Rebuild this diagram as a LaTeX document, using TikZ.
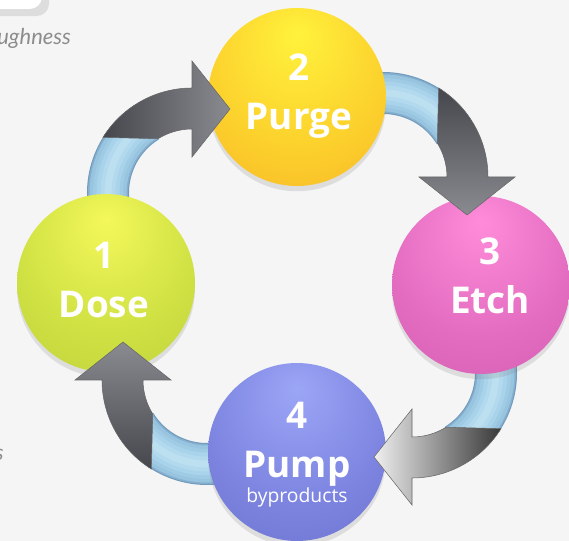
\documentclass[tikz,border=0pt]{standalone}
\usepackage{fontspec}
\setsansfont{Open Sans}
\newfontfamily\noteital{Lato}
\usetikzlibrary{shadows}

\definecolor{pagebg}{HTML}{F5F5F5}
\definecolor{dosehi}{HTML}{F4F85A}
\definecolor{dosemid}{HTML}{CEE042}
\definecolor{doseedge}{HTML}{B2C636}
\definecolor{purgehi}{HTML}{FFF23C}
\definecolor{purgemid}{HTML}{FCD02C}
\definecolor{purgeedge}{HTML}{F3A222}
\definecolor{etchhi}{HTML}{FF8CDA}
\definecolor{etchmid}{HTML}{E36CC0}
\definecolor{etchedge}{HTML}{C854A6}
\definecolor{pumphi}{HTML}{9CA6F6}
\definecolor{pumpmid}{HTML}{7C84E0}
\definecolor{pumpedge}{HTML}{5E66C2}
\definecolor{tubeedge}{HTML}{7099BC}
\definecolor{tubemid}{HTML}{98C4E0}
\definecolor{tubelight}{HTML}{A8D3EA}
\definecolor{tubehi}{HTML}{BCE0F0}
\definecolor{arrowdark}{HTML}{46474C}
\definecolor{arrowlight}{HTML}{8A8B90}

\pgfdeclareradialshading{doseball}{\pgfpoint{0bp}{18bp}}{color(0bp)=(dosehi); color(26bp)=(dosemid); color(58bp)=(doseedge); color(70bp)=(doseedge)}
\pgfdeclareradialshading{purgeball}{\pgfpoint{0bp}{18bp}}{color(0bp)=(purgehi); color(26bp)=(purgemid); color(58bp)=(purgeedge); color(70bp)=(purgeedge)}
\pgfdeclareradialshading{etchball}{\pgfpoint{0bp}{18bp}}{color(0bp)=(etchhi); color(26bp)=(etchmid); color(58bp)=(etchedge); color(70bp)=(etchedge)}
\pgfdeclareradialshading{pumpball}{\pgfpoint{0bp}{18bp}}{color(0bp)=(pumphi); color(26bp)=(pumpmid); color(58bp)=(pumpedge); color(70bp)=(pumpedge)}

\tikzset{
  stepball/.style={circle, shade, minimum size=3.56cm, inner sep=0pt,
    drop shadow={opacity=0.2, shadow xshift=0pt, shadow yshift=-3pt}},
  steptext/.style={text=white, font=\sffamily\bfseries\fontsize{21}{28}\selectfont,
    align=center, inner sep=0pt, anchor=north},
  notetext/.style={text=black!45, font=\noteital\itshape\fontsize{12.5}{15}\selectfont, inner sep=0pt},
  tube/.style={draw=tubeedge, line width=0.84cm,
    postaction={draw=tubeedge!50!tubemid, line width=0.8cm},
    postaction={draw=tubemid, line width=0.74cm},
    postaction={draw=tubemid!50!tubelight, line width=0.6cm},
    postaction={draw=tubelight, line width=0.46cm},
    postaction={draw=tubelight!50!tubehi, line width=0.3cm},
    postaction={draw=tubehi, line width=0.14cm}},
  arrowbody/.style={draw=black!60, line width=0.3pt}
}

\begin{document}
\begin{tikzpicture}[x=0.02cm, y=0.02cm]
  \useasboundingbox (0,0) rectangle (569,541);
  \clip (0,0) rectangle (569,541);
  \fill[pagebg] (0,0) rectangle (569,541);

  % cut-off bits of the next slide
  \fill[white, rounded corners=7pt, drop shadow={opacity=0.2, shadow xshift=4pt, shadow yshift=-4pt}] (-60,532) rectangle (42,580);
  \node[notetext, anchor=base west] (rough) at (-3,496) {ughness};
  \node[notetext, anchor=base east] (sidenote) at (4,80) {s};

  % tubes (behind the balls)
  \begin{scope}[shift={(192,348)}]
    \draw[tube] (200:84) arc[start angle=200, end angle=122, radius=84];
  \end{scope}
  \begin{scope}[shift={(383,364)}]
    \draw[tube] (110:84) arc[start angle=110, end angle=32, radius=84];
  \end{scope}
  \begin{scope}[shift={(412,168)}]
    \draw[tube] (20:84) arc[start angle=20, end angle=-58, radius=84];
  \end{scope}
  \begin{scope}[shift={(207,161)}]
    \draw[tube] (290:84) arc[start angle=290, end angle=212, radius=84];
  \end{scope}

  % Balls
  \node[stepball, shading=doseball] (dose) at (106,258) {};
  \node[stepball, shading=purgeball] (purge) at (297,444) {};
  \node[stepball, shading=etchball] (etch) at (481,256) {};
  \node[stepball, shading=pumpball] (pump) at (297,89) {};

  \node[steptext] (dosetext) at (104,299) {1\\Dose};
  \node[steptext] (purgetext) at (299,488) {2\\Purge};
  \node[steptext] (etchtext) at (490,304) {3\\Etch};
  \node[steptext] (pumptext) at (297,139) {4\\Pump\\[-14pt]\fontsize{11}{14}\selectfont\mdseries byproducts};

  % Arrow heads (on top)
  \begin{scope}[shift={(192,348)}]
    \draw[arrowbody, left color=arrowdark, right color=arrowlight] (148:105) arc[start angle=148, end angle=90, radius=105] -- (0,132) -- (38,84) -- (0,36) -- (0,64) arc[start angle=90, end angle=122, radius=64] -- cycle;
  \end{scope}
  \begin{scope}[shift={(383,364)}]
    \draw[arrowbody, top color=arrowdark, bottom color=arrowlight] (58:105) arc[start angle=58, end angle=0, radius=105] -- (132,0) -- (84,-38) -- (36,0) -- (64,0) arc[start angle=0, end angle=32, radius=64] -- cycle;
  \end{scope}
  \begin{scope}[shift={(412,168)}]
    \draw[arrowbody, left color=white!94!black, right color=black!78] (-32:105) arc[start angle=-32, end angle=-90, radius=105] -- (0,-132) -- (-38,-84) -- (0,-36) -- (0,-64) arc[start angle=-90, end angle=-58, radius=64] -- cycle;
  \end{scope}
  \begin{scope}[shift={(207,161)}]
    \draw[arrowbody, bottom color=arrowdark, top color=arrowlight] (238:105) arc[start angle=238, end angle=180, radius=105] -- (-132,0) -- (-84,38) -- (-36,0) -- (-64,0) arc[start angle=180, end angle=212, radius=64] -- cycle;
  \end{scope}
\end{tikzpicture}
\end{document}
